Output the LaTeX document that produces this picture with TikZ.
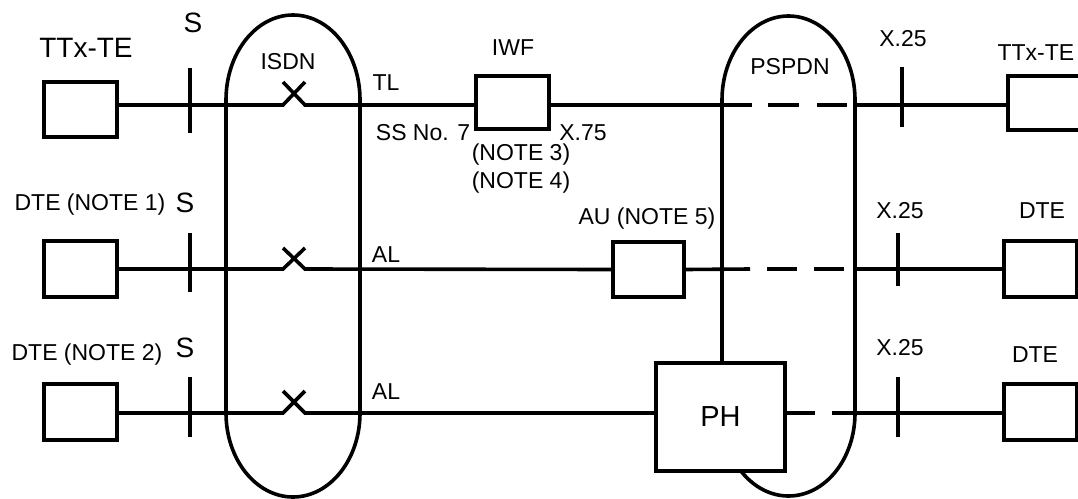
\documentclass[tikz,border=0pt]{standalone}
\usepackage{fontspec}
\setmainfont{Liberation Sans}
\begin{document}
\begin{tikzpicture}[x=1pt,y=-1pt,line width=3.6pt,
  box/.style={draw,fill=white,inner sep=0pt,line width=3.6pt},
  lbl/.style={font=\fontsize{23}{26}\selectfont,inner sep=0pt},
  big/.style={font=\fontsize{28}{30}\selectfont,inner sep=0pt},
  net/.style={draw,line width=3.6pt}]
\useasboundingbox (0,0) rectangle (1078,498);
\coordinate (r1) at (0,105);
\coordinate (r2) at (0,269);
\coordinate (r3) at (0,413);
% networks (ovals)
\draw[net] (226,413) -- (226,100) arc[start angle=180,end angle=0,x radius=67pt,y radius=85pt] -- (360,413) arc[start angle=0,end angle=-180,x radius=67pt,y radius=84pt] -- cycle;
\draw[net] (722,413) -- (722,100) arc[start angle=180,end angle=0,x radius=66.5pt,y radius=84pt] -- (855,413) arc[start angle=0,end angle=-180,x radius=66.5pt,y radius=83pt] -- cycle;
% boxes
\node[box,minimum width=73pt,minimum height=55pt] (tl1) at (80.5,109.5) {};
\node[box,minimum width=73pt,minimum height=56pt] (tl2) at (80.5,269) {};
\node[box,minimum width=73pt,minimum height=56pt] (tl3) at (80.5,412) {};
\node[box,minimum width=73pt,minimum height=53pt] (iwf) at (512.5,102.5) {};
\node[box,minimum width=71pt,minimum height=55pt] (au) at (648.5,269.5) {};
\node[box,minimum width=129pt,minimum height=108pt,font=\fontsize{29}{30}\selectfont] (ph) at (720.5,417) {PH};
\node[box,minimum width=73pt,minimum height=54pt] (tr1) at (1044.5,103) {};
\node[box,minimum width=73pt,minimum height=56pt] (tr2) at (1040.5,269) {};
\node[box,minimum width=73pt,minimum height=56pt] (tr3) at (1040.5,412) {};
% row 1
\draw (tl1.east |- r1) -- (283,105) -- (305,82) (283,82) -- (305,105) -- (iwf.west |- r1);
\draw (iwf.east |- r1) -- (752,105);
\draw[dash pattern=on 31pt off 18pt] (768,105) -- (847,105);
\draw (855,105) -- (tr1.west |- r1);
\draw (190,68) -- (190,133);
\draw (902,67) -- (902,127);
% row 2
\draw (tl2.east) -- (283,269) -- (305,248) (283,248) -- (305,269) -- (au.west);
\draw (au.east) -- (750,269);
\draw[dash pattern=on 30pt off 17pt] (767,269) -- (845,269);
\draw (855,269) -- (tr2.west);
\draw (190,233) -- (190,292);
\draw (898,233) -- (898,286);
% row 3
\draw (tl3.east |- r3) -- (283,413) -- (305,391) (283,391) -- (305,413) -- (ph.west |- r3);
\draw[dash pattern=on 28pt off 17pt] (ph.east |- r3) -- (855,413);
\draw (855,413) -- (tr3.west |- r3);
\draw (190,377) -- (190,437);
\draw (898,377) -- (898,437);
% labels
\node[big] (lttx) at (86,48) {TTx-TE};
\node[big] (ls1) at (193,23) {S};
\node[lbl] (lisdn) at (288,62) {ISDN};
\node[lbl] (ltl) at (386,83) {TL};
\node[lbl] (liwf) at (513,48) {IWF};
\node[lbl] (lss7) at (423,133) {SS No. 7};
\node[lbl] (lx75) at (583,133) {X.75};
\node[lbl] (ln3) at (521,155) {(NOTE 3)};
\node[lbl] (ln4) at (521,183) {(NOTE 4)};
\node[lbl] (lpspdn) at (790,67) {PSPDN};
\node[lbl] (lx251) at (903,39) {X.25};
\node[lbl,anchor=east] (lttxr) at (1076,53) {TTx-TE};
\node[lbl] (ldte1) at (90,205) {DTE (NOTE 1)};
\node[big] (ls2) at (185,203) {S};
\node[lbl] (lal1) at (386,255) {AL};
\node[lbl] (lau) at (647,219) {AU (NOTE 5)};
\node[lbl] (lx252) at (900,211) {X.25};
\node[lbl] (ldter2) at (1042,211) {DTE};
\node[lbl] (ldte2) at (87,355) {DTE (NOTE 2)};
\node[big] (ls3) at (185,348) {S};
\node[lbl] (lal2) at (386,392) {AL};
\node[lbl] (lx253) at (900,348) {X.25};
\node[lbl] (ldter3) at (1035,355) {DTE};
\end{tikzpicture}
\end{document}
